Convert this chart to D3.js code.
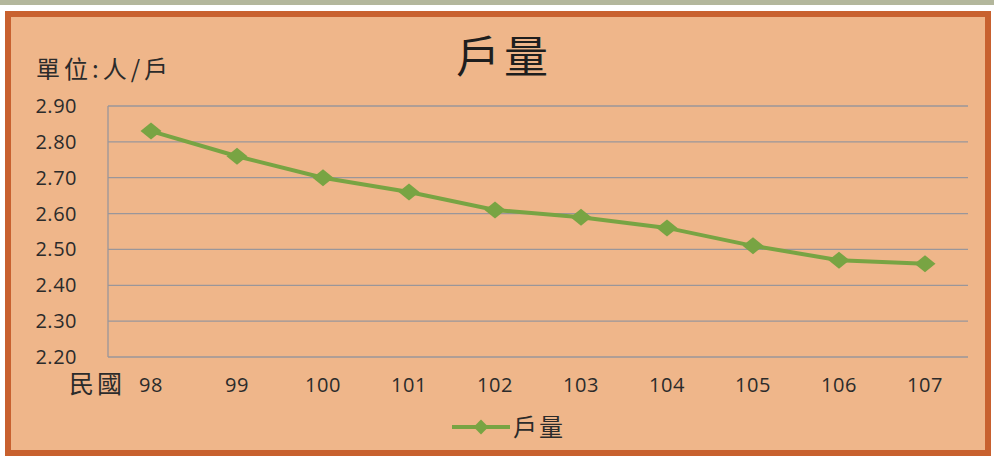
<!DOCTYPE html>
<html>
<head>
<meta charset="utf-8">
<script src="https://cdn.jsdelivr.net/npm/d3@7"></script>
<style>
  body { margin: 0; background: #fff; }
  svg { display: block; }
</style>
</head>
<body>
<div id="chart"></div>
<script>
var years = ['98', '99', '100', '101', '102', '103', '104', '105', '106', '107'];
var households = [2.83, 2.76, 2.70, 2.66, 2.61, 2.59, 2.56, 2.51, 2.47, 2.46];
var yTicks = [2.20, 2.30, 2.40, 2.50, 2.60, 2.70, 2.80, 2.90];
var seriesName = '戶量';
var unitLabel = '單位:人/戶';
var xPrefix = '民國';

var width = 994, height = 459;
var margin = { top: 106, right: 26, bottom: 102, left: 108 };

var svg = d3.select('#chart').append('svg')
    .attr('width', width)
    .attr('height', height);

// scanned page strip + framed panel
svg.append('rect').attr('x', 0).attr('y', 0).attr('width', width).attr('height', 5)
    .attr('fill', '#b3b79c');
svg.append('rect')
    .attr('x', 8).attr('y', 14).attr('width', 980).attr('height', 439)
    .attr('fill', '#efb68a')
    .attr('stroke', '#c8612f')
    .attr('stroke-width', 6);

var x = d3.scaleBand()
    .domain(years)
    .range([margin.left, width - margin.right]);

var y = d3.scaleLinear()
    .domain([2.2, 2.9])
    .range([height - margin.bottom, margin.top]);

var font = '"Open Sans", "Noto Sans", sans-serif';
var cjk = '"Noto Sans CJK TC", sans-serif';

// gridlines
svg.append('g')
  .selectAll('line')
  .data(yTicks)
  .enter().append('line')
    .attr('x1', margin.left)
    .attr('x2', width - margin.right)
    .attr('y1', function(d) { return y(d); })
    .attr('y2', function(d) { return y(d); })
    .attr('stroke', '#9a969a')
    .attr('stroke-width', 1.3);

// left axis line
svg.append('line')
    .attr('x1', margin.left).attr('x2', margin.left)
    .attr('y1', y(2.9)).attr('y2', y(2.2))
    .attr('stroke', '#9a969a')
    .attr('stroke-width', 1.3);

// y labels
svg.append('g')
  .selectAll('text')
  .data(yTicks)
  .enter().append('text')
    .attr('x', 77)
    .attr('y', function(d) { return y(d); })
    .attr('dy', '0.35em')
    .attr('text-anchor', 'end')
    .attr('font-family', font)
    .attr('font-size', 20)
    .attr('letter-spacing', 0.5)
    .attr('fill', '#2b2b2b')
    .text(function(d) { return d3.format('.2f')(d); });

// x labels
svg.append('g')
  .selectAll('text')
  .data(years)
  .enter().append('text')
    .attr('x', function(d) { return x(d) + x.bandwidth() / 2; })
    .attr('y', 392)
    .attr('text-anchor', 'middle')
    .attr('font-family', font)
    .attr('font-size', 20)
    .attr('letter-spacing', 0.5)
    .attr('fill', '#2b2b2b')
    .text(function(d) { return d; });

svg.append('text')
    .attr('x', 69).attr('y', 393)
    .attr('font-family', cjk)
    .attr('font-size', 25)
    .attr('letter-spacing', 3)
    .attr('fill', '#2b2b2b')
    .text(xPrefix);

// title + unit
svg.append('text')
    .attr('x', 504).attr('y', 73)
    .attr('text-anchor', 'middle')
    .attr('font-family', cjk)
    .attr('font-size', 44)
    .attr('letter-spacing', 4)
    .attr('fill', '#1e1e1e')
    .text(seriesName);

svg.append('text')
    .attr('x', 36).attr('y', 78)
    .attr('font-family', cjk)
    .attr('font-size', 24)
    .attr('letter-spacing', 4)
    .attr('fill', '#2b2b2b')
    .text(unitLabel);

// series
var green = '#78a443';
var line = d3.line()
    .x(function(d, i) { return x(years[i]) + x.bandwidth() / 2; })
    .y(function(d) { return y(d); });

svg.append('path')
    .datum(households)
    .attr('d', line)
    .attr('fill', 'none')
    .attr('stroke', green)
    .attr('stroke-width', 4);

var diamond = d3.symbol().type(d3.symbolSquare).size(200);

svg.append('g')
  .selectAll('path')
  .data(households)
  .enter().append('path')
    .attr('d', diamond)
    .attr('transform', function(d, i) {
      return 'translate(' + (x(years[i]) + x.bandwidth() / 2) + ',' + y(d) + ') scale(1.05,0.85) rotate(45)';
    })
    .attr('fill', green);

// legend
var legend = svg.append('g').attr('transform', 'translate(452,427)');
legend.append('line')
    .attr('x1', 0).attr('x2', 58)
    .attr('stroke', green).attr('stroke-width', 4);
legend.append('path')
    .attr('d', d3.symbol().type(d3.symbolSquare).size(110))
    .attr('transform', 'translate(29,0) rotate(45)')
    .attr('fill', green);
legend.append('text')
    .attr('x', 61).attr('y', 9)
    .attr('font-family', cjk)
    .attr('font-size', 24)
    .attr('letter-spacing', 2)
    .attr('fill', '#2b2b2b')
    .text(seriesName);
</script>
</body>
</html>
